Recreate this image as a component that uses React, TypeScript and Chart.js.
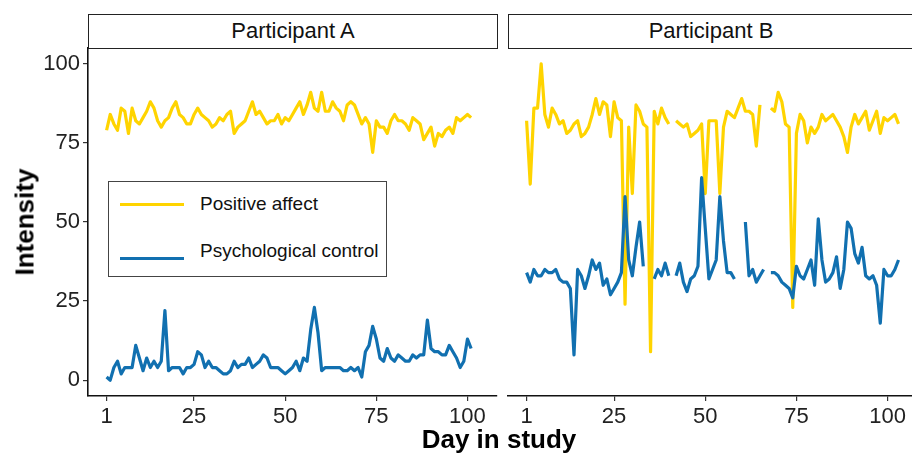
import React, { useEffect, useRef } from 'react';
import { Chart, registerables } from 'chart.js';

Chart.register(...registerables);

// ---- data ----
const panelTitles = ['Participant A', 'Participant B'];
const seriesNames = ['Positive affect', 'Psychological control'];
const seriesColors = ['#FFD400', '#1170B0'];
const xTickValues = [1, 25, 50, 75, 100];
const yTickValues = [0, 25, 50, 75, 100];

const affectA = [
  79, 84, 81, 79, 86, 85, 78, 86, 82, 81,
  83, 85, 88, 86, 82, 80, 82, 83, 86, 88,
  84, 83, 81, 81, 84, 86, 84, 83, 82, 80,
  81, 83, 82, 84, 85, 78, 80, 81, 82, 85,
  88, 84, 85, 83, 81, 82, 82, 84, 81, 83,
  82, 84, 86, 88, 84, 87, 91, 86, 85, 91,
  85, 85, 88, 86, 85, 82, 87, 88, 87, 84,
  81, 83, 81, 72, 82, 80, 80, 78, 82, 84,
  82, 82, 81, 79, 83, 82, 81, 76, 78, 80,
  74, 78, 77, 79, 80, 78, 83, 82, 83, 84, 83,
];
const controlA = [
  1, 0, 4, 6, 2, 4, 4, 4, 11, 7,
  3, 7, 4, 6, 4, 6, 22, 3, 4, 4,
  4, 2, 4, 4, 5, 9, 8, 4, 6, 4,
  4, 3, 2, 2, 3, 6, 4, 5, 5, 7,
  4, 5, 6, 8, 7, 4, 4, 4, 3, 2,
  3, 4, 6, 3, 7, 6, 16, 23, 15, 3,
  4, 4, 4, 4, 4, 3, 3, 4, 3, 4,
  1, 9, 11, 17, 13, 7, 6, 10, 7, 6,
  8, 7, 6, 6, 8, 7, 8, 8, 19, 10,
  9, 9, 8, 8, 11, 9, 7, 4, 6, 13, 10,
];
const affectB = [
  82, 62, 86, 86, 100, 84, 80, 86, 84, 81,
  82, 78, 79, 81, 82, 77, 78, 80, 84, 89,
  84, 88, 87, 77, 88, 83, 82, 24, 80, 59,
  87, 85, 81, 80, 9, 85, 81, 86, 83, 81,
  null, 82, 81, 80, 81, 77, 78, 79, 81, 59,
  82, 82, 82, 59, 80, 85, 84, 83, 86, 89,
  85, 85, 84, 74, 87, null, null, 86, 85, 91,
  88, 81, 80, 23, 78, 84, 82, 75, 80, 78,
  80, 84, 82, 83, 84, 82, 80, 77, 72, 80,
  84, 81, 83, 85, 79, 82, 85, 78, 83, 82,
  83, 84, 81,
];
const controlB = [
  34, 31, 35, 33, 33, 35, 34, 34, 35, 32,
  31, 31, 29, 8, 35, 33, 29, 33, 38, 35,
  37, 30, 32, 27, 29, 31, 34, 58, 38, 33,
  42, 50, 36, null, null, 32, 35, 33, 37, 33,
  null, 33, 37, 31, 28, 32, 33, 36, 64, 48,
  32, 35, 38, 58, 44, 34, 34, 32, null, null,
  50, 33, 35, 31, 33, 35, null, 34, 34, 33,
  31, 30, 29, 26, 36, 33, 32, 35, 38, 30,
  51, 38, 31, 32, 34, 39, 29, 35, 50, 48,
  40, 37, 42, 33, 32, 33, 30, 18, 35, 33,
  33, 35, 38,
];

const FONT = '"Liberation Sans", Arial, sans-serif';

function toPoints(values: (number | null)[]) {
  return values.map((v, i) => ({ x: i + 1, y: v }));
}

function makeConfig(affect: (number | null)[], control: (number | null)[], showY: boolean, xMax: number): any {
  const line = (label: string, color: string, values: (number | null)[]) => ({
    label,
    data: toPoints(values),
    borderColor: color,
    backgroundColor: color,
    borderWidth: 3.2,
    borderJoinStyle: 'round',
    borderCapStyle: 'butt',
    pointRadius: 0,
    tension: 0,
    spanGaps: false,
  });
  return {
    type: 'line',
    data: {
      datasets: [line(seriesNames[1], seriesColors[1], control), line(seriesNames[0], seriesColors[0], affect)],
    },
    options: {
      animation: false,
      responsive: false,
      maintainAspectRatio: false,
      layout: { padding: { top: 48, right: showY ? 3 : 0, left: showY ? 0 : 8, bottom: 0 } },
      plugins: { legend: { display: false }, tooltip: { enabled: false }, title: { display: false } },
      scales: {
        x: {
          type: 'linear',
          min: -4.1,
          max: xMax,
          afterBuildTicks: (s: any) => {
            s.ticks = xTickValues.map((v) => ({ value: v }));
          },
          afterFit: (s: any) => {
            s.height = 58;
          },
          grid: { drawOnChartArea: false, drawTicks: true, tickLength: 5, color: '#333', lineWidth: 1.2 },
          border: { display: true, color: '#111', width: 1.6 },
          ticks: { font: { family: FONT, size: 22 }, color: '#222', padding: 3, maxRotation: 0, autoSkip: false },
        },
        y: {
          display: showY,
          min: -5,
          max: 105,
          afterBuildTicks: (s: any) => {
            s.ticks = yTickValues.map((v) => ({ value: v }));
          },
          afterFit: (s: any) => {
            s.width = showY ? 88 : 0;
          },
          grid: { drawOnChartArea: false, drawTicks: true, tickLength: 5, color: '#333', lineWidth: 1.2 },
          border: { display: showY, color: '#111', width: 1.6 },
          ticks: { font: { family: FONT, size: 22 }, color: '#222', padding: 3, autoSkip: false },
        },
      },
    },
  };
}

export default function App() {
  const refA = useRef<HTMLCanvasElement>(null);
  const refB = useRef<HTMLCanvasElement>(null);

  useEffect(() => {
    const a = new Chart(refA.current as HTMLCanvasElement, makeConfig(affectA, controlA, true, 108.1));
    const b = new Chart(refB.current as HTMLCanvasElement, makeConfig(affectB, controlB, false, 106.7));
    return () => {
      a.destroy();
      b.destroy();
    };
  }, []);

  const strip = (left: number, width: number, text: string) => (
    <div
      style={{
        position: 'absolute',
        left,
        top: 14,
        width,
        height: 35,
        boxSizing: 'border-box',
        border: '1.6px solid #222',
        background: '#fff',
        fontFamily: FONT,
        fontSize: 22,
        lineHeight: '32px',
        textAlign: 'center',
        color: '#111',
      }}
    >
      {text}
    </div>
  );

  return (
    <div style={{ position: 'relative', width: 912, height: 454, background: '#fff', overflow: 'hidden' }}>
      <style>{`body{margin:0;background:#fff}`}</style>
      <canvas ref={refA} width={500} height={454} style={{ position: 'absolute', left: 0, top: 0 }} />
      <canvas ref={refB} width={412} height={454} style={{ position: 'absolute', left: 500, top: 0 }} />
      {strip(88, 410, panelTitles[0])}
      {strip(508, 406, panelTitles[1])}
      <div
        style={{
          position: 'absolute',
          left: 25,
          top: 222,
          transform: 'translate(-50%, -50%) rotate(-90deg)',
          fontFamily: FONT,
          fontWeight: 'bold',
          fontSize: 26,
          whiteSpace: 'nowrap',
          color: '#000',
        }}
      >
        Intensity
      </div>
      <div
        style={{
          position: 'absolute',
          left: 499,
          top: 439,
          transform: 'translate(-50%, -50%)',
          fontFamily: FONT,
          fontWeight: 'bold',
          fontSize: 26,
          whiteSpace: 'nowrap',
          color: '#000',
        }}
      >
        Day in study
      </div>
      <div
        style={{
          position: 'absolute',
          left: 108,
          top: 181,
          width: 279,
          height: 96,
          boxSizing: 'border-box',
          border: '1px solid #444',
          background: '#fff',
        }}
      >
        <div style={{ position: 'absolute', left: 11, top: 21, width: 64, height: 3, background: seriesColors[0] }} />
        <div
          style={{
            position: 'absolute',
            left: 91,
            top: 22,
            transform: 'translateY(-50%)',
            fontFamily: FONT,
            fontSize: 19,
            whiteSpace: 'nowrap',
            color: '#111',
          }}
        >
          {seriesNames[0]}
        </div>
        <div style={{ position: 'absolute', left: 11, top: 75, width: 64, height: 3, background: seriesColors[1] }} />
        <div
          style={{
            position: 'absolute',
            left: 91,
            top: 69,
            transform: 'translateY(-50%)',
            fontFamily: FONT,
            fontSize: 19,
            whiteSpace: 'nowrap',
            color: '#111',
          }}
        >
          {seriesNames[1]}
        </div>
      </div>
    </div>
  );
}
